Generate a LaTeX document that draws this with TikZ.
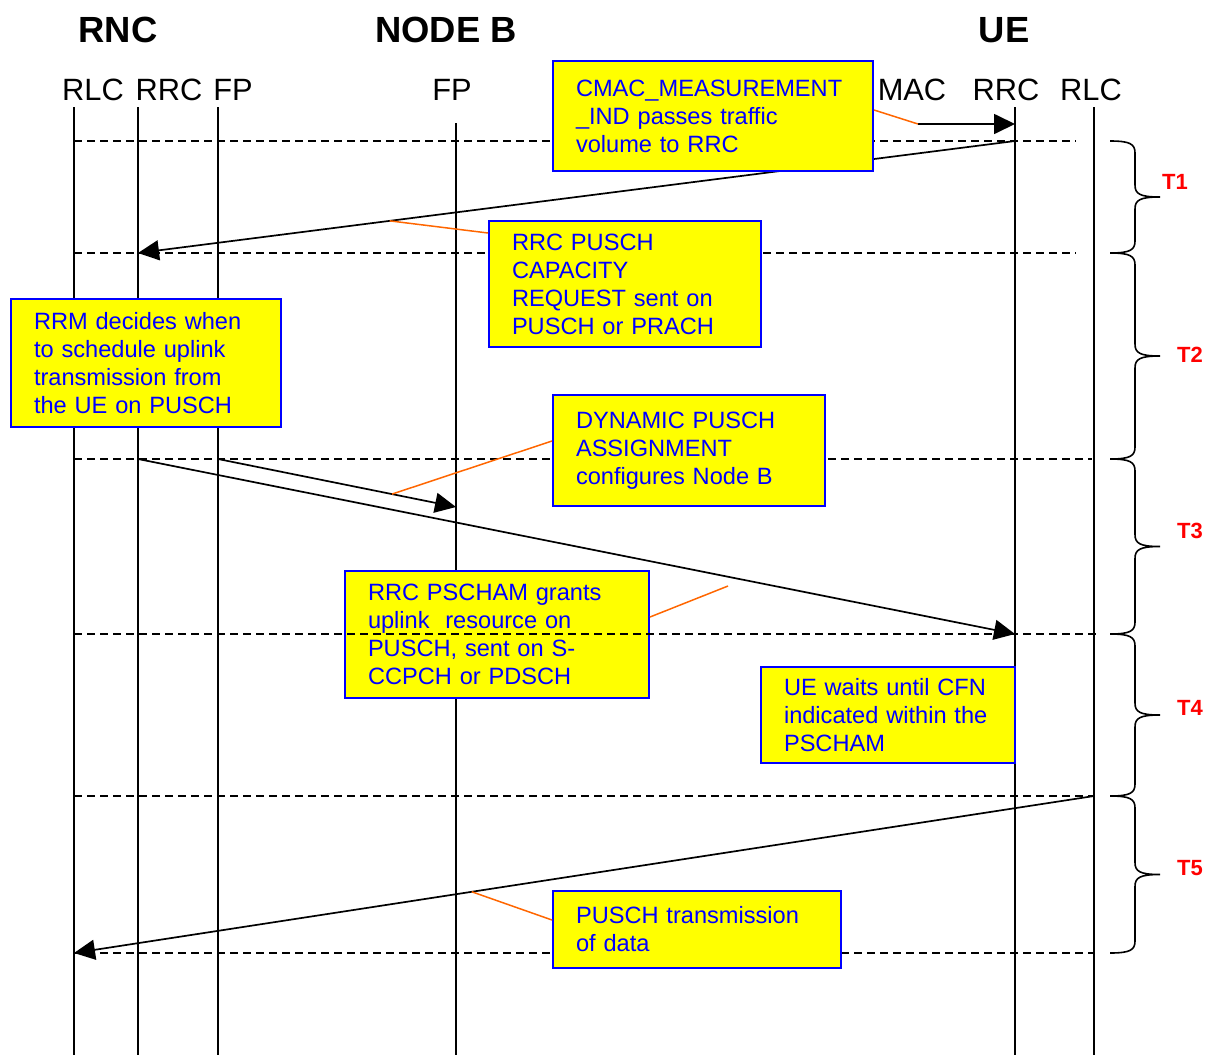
\documentclass[tikz,border=0pt]{standalone}
\usepackage{fontspec}
\setmainfont{Liberation Sans}
\usepackage{tikz}
\usetikzlibrary{arrows.meta}
\definecolor{notefill}{HTML}{FFFF00}
\definecolor{noteblue}{HTML}{0000FF}
\definecolor{calloutorange}{HTML}{FF6600}
\tikzset{
    msg/.style={-{Triangle[length=10.5pt, width=10pt]}, line width=0.85pt},
    lifeline/.style={line width=0.85pt},
    sep/.style={line width=0.85pt, dash pattern=on 4pt off 2.5pt},
    callout/.style={calloutorange, line width=0.75pt}
}

\begin{document}
\begin{tikzpicture}[
            x=0.5pt, y=-0.5pt,
            entity/.style={inner sep=0pt, font=\fontsize{18.2}{20}\selectfont\bfseries},
            layer/.style={inner sep=0pt, font=\fontsize{15.4}{18}\selectfont},
            note/.style={rectangle, draw=noteblue, line width=1pt, fill=notefill, text=noteblue,
                anchor=north west, align=left, inner xsep=11.5pt, inner ysep=0pt,
                font=\fontsize{11.8}{14}\selectfont},
            brc/.style={line width=0.8pt},
            tlab/.style={inner sep=0pt, red, font=\fontsize{11}{12}\selectfont\bfseries}
        ]
            \useasboundingbox (0,0) rectangle (1209,1055);

            % Entities
            \node[entity] (rnc) at (118,30) {RNC};
            \node[entity] (nodeb) at (446,30) {NODE B};
            \node[entity] (ue) at (1004,30) {UE};

            % Protocol layers
            \node[layer] (rlcl) at (93,90) {RLC};
            \node[layer] (rrcl) at (169,90) {RRC};
            \node[layer] (fpl) at (233,90) {FP};
            \node[layer] (fpb) at (452,90) {FP};
            \node[layer] (macu) at (912,90) {MAC};
            \node[layer] (rrcu) at (1006,90) {RRC};
            \node[layer] (rlcu) at (1091,90) {RLC};

            % Lifelines
            \coordinate (lrlc) at (74,107);
            \coordinate (lrrc) at (138,107);
            \coordinate (lfp) at (218,107);
            \coordinate (bfp) at (456,123);
            \coordinate (urrc) at (1015,107);
            \coordinate (urlc) at (1094,107);
            \coordinate (bot) at (0,1055);
            \draw[lifeline] (lrlc) -- (lrlc |- bot);
            \draw[lifeline] (lrrc) -- (lrrc |- bot);
            \draw[lifeline] (lfp) -- (lfp |- bot);
            \draw[lifeline] (bfp) -- (bfp |- bot);
            \draw[lifeline] (urrc) -- (urrc |- bot);
            \draw[lifeline] (urlc) -- (urlc |- bot);

            % Time marks
            \coordinate (s0) at (0,141);
            \coordinate (s1) at (0,253);
            \coordinate (s2) at (0,459);
            \coordinate (s3) at (0,634);
            \coordinate (s4) at (0,796);
            \coordinate (s5) at (0,953);
            \draw[sep] (lrlc |- s0) -- (1076,141);
            \draw[sep] (lrlc |- s1) -- (1076,253);
            \draw[sep] (lrlc |- s2) -- (1092,459);
            \draw[sep] (lrlc |- s4) -- (urlc |- s4);
            \draw[sep] (lrlc |- s5) -- (urlc |- s5);

            % Messages
            \coordinate (macout) at (918,124);
            \draw[msg] (macout) -- (urrc |- macout);
            \draw[msg] (urrc |- s0) -- coordinate[pos=.713] (c2) (lrrc |- s1);
            \draw[msg] (lfp |- s2) -- coordinate[pos=.731] (c3) (bfp |- 0,507);
            \draw[msg] (lrrc |- s2) -- (urrc |- s3);
            \draw[msg] (urlc |- s4) -- coordinate[pos=.61] (c5) (lrlc |- s5);
            \coordinate (c4) at (728,586);

            % Notes
            \node[note, minimum width=160pt, minimum height=55pt, text width=137pt] (cmac) at (552,60)
                {CMAC\_MEASUREMENT\\\_IND passes traffic\\volume to RRC};
            \node[note, minimum width=136pt, minimum height=63pt, text width=113pt] (capreq) at (488,220)
                {RRC PUSCH\\CAPACITY\\REQUEST sent on\\PUSCH or PRACH};
            \node[note, minimum width=135pt, minimum height=64pt, text width=112pt] (rrm) at (10,298)
                {RRM decides when\\to schedule uplink\\transmission from\\the UE on PUSCH};
            \node[note, minimum width=136pt, minimum height=55.5pt, text width=113pt] (dyn) at (552,394)
                {DYNAMIC PUSCH\\ASSIGNMENT\\configures Node B};
            \node[note, minimum width=152pt, minimum height=63.5pt, text width=129pt] (grant) at (344,570)
                {RRC PSCHAM grants\\uplink\ \ resource on\\PUSCH, sent on S-\\CCPCH or PDSCH};
            \node[note, minimum width=127pt, minimum height=48pt, text width=104pt] (wait) at (760,666)
                {UE waits until CFN\\indicated within the\\PSCHAM};
            \node[note, minimum width=144pt, minimum height=38.5pt, text width=121pt] (data) at (552,890)
                {PUSCH transmission\\of data};

            \draw[sep] (lrlc |- s3) -- (1098,634);

            % Callouts
            \draw[callout] (cmac.east |- 0,110) -- (macout);
            \draw[callout] (capreq.west |- 0,233) -- (c2);
            \draw[callout] (dyn.west |- 0,441) -- (c3);
            \draw[callout] (grant.east |- 0,617) -- (c4);
            \draw[callout] (data.west |- 0,920) -- (c5);

            % Phases
            \foreach \ya/\yb/\lab/\lx/\ly in {141/253/T1/1175/182, 253/459/T2/1190/355, 459/634/T3/1190/531, 634/796/T4/1190/708, 796/953/T5/1190/868}{
                \pgfmathsetmacro{\ym}{(\ya+\yb)/2}
                \draw[brc] (1110,\ya) .. controls (1130,\ya) and (1135,\ya+3) .. (1135,\ya+12)
                    -- (1135,\ym-12) .. controls (1135,\ym-3) and (1140,\ym) .. (1160,\ym)
                    .. controls (1140,\ym) and (1135,\ym+3) .. (1135,\ym+12)
                    -- (1135,\yb-12) .. controls (1135,\yb-3) and (1130,\yb) .. (1110,\yb);
                \node[tlab] (\lab) at (\lx,\ly) {\lab};
            }
        \end{tikzpicture}
\end{document}
